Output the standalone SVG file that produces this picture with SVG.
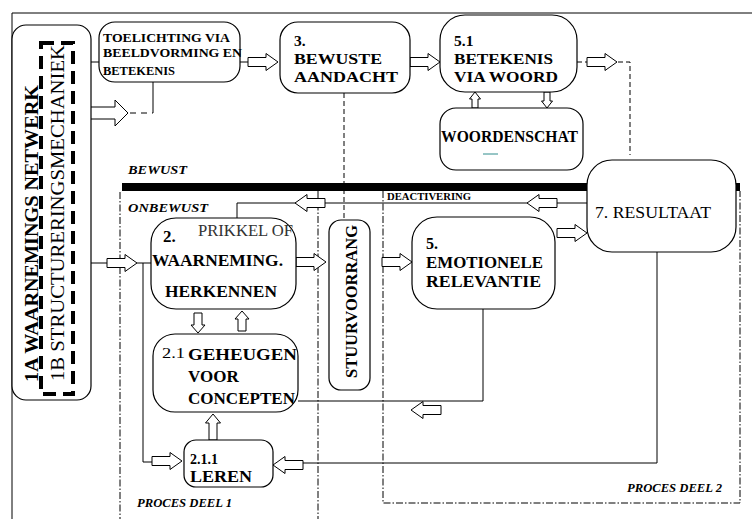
<svg xmlns="http://www.w3.org/2000/svg" xmlns:xlink="http://www.w3.org/1999/xlink" width="752" height="519" viewBox="0 0 752 519">
<style>
.box{fill:#fff;stroke:#000;stroke-width:1.2}
.ln{fill:none;stroke:#000;stroke-width:1}
.dash{fill:none;stroke:#000;stroke-width:1;stroke-dasharray:5 3}
.dd{fill:none;stroke:#000;stroke-width:1;stroke-dasharray:7 2 1.5 2}
.arr{fill:#fff;stroke:#000;stroke-width:1}
.t{font-family:"Liberation Serif","Times New Roman",serif;fill:#000}
.b{font-weight:bold}
.bi{font-weight:bold;font-style:italic}
</style>
<defs>
<path id="arr" d="M0,-4.5 H18 V-8.5 L30,0 L18,8.5 V4.5 H0 Z"/>
<path id="arrb" d="M0,-6 H37 V-13 L50,0 L37,13 V6 H0 Z"/>
<path id="arrm" d="M0,-4 H17 V-7.5 L26,0 L17,7.5 V4 H0 Z"/>
<path id="arrs" d="M0,-4 H12 V-7 L20,0 L12,7 V4 H0 Z"/>
<path id="arrt" d="M0,-3 H9 V-5.5 L16,0 L9,5.5 V3 H0 Z"/>
</defs>
<rect width="752" height="519" fill="#fff"/>
<g id="frame">
<path class="ln" d="M12,519 V13 H752"/>
<rect x="122" y="183" width="618" height="8" fill="#000"/>
<path class="dd" d="M120,192 V519"/>
<path class="dd" d="M318,191 V519"/>
<path class="dd" d="M383,191 V503 H740 V191"/>
<text class="t bi" x="128" y="174" font-size="13" textLength="59" lengthAdjust="spacingAndGlyphs">BEWUST</text>
<text class="t bi" x="128" y="212" font-size="13" textLength="80" lengthAdjust="spacingAndGlyphs">ONBEWUST</text>
<text class="t bi" x="137" y="507" font-size="12" textLength="95" lengthAdjust="spacingAndGlyphs">PROCES DEEL 1</text>
<text class="t bi" x="627" y="492" font-size="12" textLength="95" lengthAdjust="spacingAndGlyphs">PROCES DEEL 2</text>
</g>
<g id="connectors">
<path class="ln" d="M91,62 H99"/>
<path class="ln" d="M240,62 H248"/>
<use href="#arr" class="arr" transform="translate(248,62)"/>
<path class="ln" d="M392,62 H410"/>
<use href="#arr" class="arr" transform="translate(410,62)"/>
<path class="ln" d="M153,82 V113"/>
<path class="ln" d="M130,113 H153" stroke-dasharray="6 5"/>
<use href="#arrb" class="arr" transform="translate(78,113)"/>
<use href="#arrt" class="arr" transform="translate(475,108) rotate(-90)"/>
<use href="#arrt" class="arr" transform="translate(547,92) rotate(90)"/>
<path class="dash" d="M577,62 H587"/>
<use href="#arr" class="arr" transform="translate(587,62)"/>
<path class="dash" d="M618,62 H630 V155"/>
<path class="dash" d="M344,93 V220"/>
<path class="ln" d="M587,203 H237 V218"/>
<use href="#arr" class="arr" transform="translate(325,203) rotate(180)"/>
<use href="#arr" class="arr" transform="translate(557,203) rotate(180)"/>
<path class="ln" d="M91,263 H107"/>
<use href="#arr" class="arr" transform="translate(107,263)"/>
<path class="ln" d="M137,263 H151"/>
<path class="ln" d="M143,263 V462 H152"/>
<use href="#arr" class="arr" transform="translate(152,461)"/>
<use href="#arr" class="arr" transform="translate(296,262)"/>
<use href="#arr" class="arr" transform="translate(382,262)"/>
<use href="#arr" class="arr" transform="translate(557,233)"/>
<use href="#arrs" class="arr" transform="translate(198,313) rotate(90)"/>
<use href="#arrs" class="arr" transform="translate(242,331) rotate(-90)"/>
<use href="#arrm" class="arr" transform="translate(213,440) rotate(-90)"/>
<path class="ln" d="M298,401 H483 V309"/>
<use href="#arr" class="arr" transform="translate(441,410) rotate(180)"/>
<path class="ln" d="M657,252 V463 H303"/>
<use href="#arr" class="arr" transform="translate(303,465) rotate(180)"/>
</g>
<g id="n1">
<rect class="box" x="12" y="25" width="79" height="375" rx="14"/>
<rect x="41" y="43" width="32" height="351" fill="none" stroke="#000" stroke-width="4" stroke-dasharray="13 7"/>
<text class="t b" font-size="19" transform="translate(38,382) rotate(-90)" textLength="297" lengthAdjust="spacingAndGlyphs">1A WAARNEMINGS NETWERK</text>
<text class="t" font-size="19" transform="translate(64,381) rotate(-90)" textLength="336" lengthAdjust="spacingAndGlyphs">1B STRUCTURERINGSMECHANIEK</text>
</g>
<g id="n-toelichting">
<rect class="box" x="99" y="22" width="141" height="60" rx="16"/>
<text class="t b" font-size="13" x="103" y="42" textLength="127" lengthAdjust="spacingAndGlyphs">TOELICHTING VIA</text>
<text class="t b" font-size="13" x="103" y="57" textLength="139" lengthAdjust="spacingAndGlyphs">BEELDVORMING EN</text>
<text class="t b" font-size="13" x="103" y="75" textLength="72" lengthAdjust="spacingAndGlyphs">BETEKENIS</text>
</g>
<g id="n3">
<rect class="box" x="280" y="22" width="130" height="71" rx="18"/>
<text class="t b" font-size="15.5" x="294" y="46">3.</text>
<text class="t b" font-size="15.5" x="294" y="64" textLength="88" lengthAdjust="spacingAndGlyphs">BEWUSTE</text>
<text class="t b" font-size="15.5" x="294" y="82" textLength="104" lengthAdjust="spacingAndGlyphs">AANDACHT</text>
</g>
<g id="n51">
<rect class="box" x="440" y="15" width="137" height="77" rx="25"/>
<text class="t b" font-size="15.5" x="454" y="46">5.1</text>
<text class="t b" font-size="15.5" x="454" y="64" textLength="99" lengthAdjust="spacingAndGlyphs">BETEKENIS</text>
<text class="t b" font-size="15.5" x="454" y="82" textLength="104" lengthAdjust="spacingAndGlyphs">VIA WOORD</text>
</g>
<g id="n-woordenschat">
<rect class="box" x="440" y="108" width="143" height="62" rx="16"/>
<text class="t b" font-size="17" x="441" y="142" textLength="137" lengthAdjust="spacingAndGlyphs">WOORDENSCHAT</text>
<line x1="483" y1="154" x2="498" y2="154" stroke="#2f8c8c" stroke-width="1"/>
</g>
<g id="n7">
<rect class="box" x="587" y="160" width="149" height="92" rx="25"/>
<text class="t" font-size="17" x="595" y="218" textLength="116" lengthAdjust="spacingAndGlyphs">7.  RESULTAAT</text>
</g>
<text class="t b" font-size="11" x="387" y="200" textLength="84" lengthAdjust="spacingAndGlyphs">DEACTIVERING</text>
<g id="n2">
<rect class="box" x="151" y="218" width="145" height="91" rx="25"/>
<text class="t b" font-size="17" x="163" y="242">2.</text>
<text class="t" font-size="16.5" x="198" y="236" style="fill:#333" textLength="95" lengthAdjust="spacingAndGlyphs">PRIKKEL OF</text>
<text class="t b" font-size="17" x="152" y="266" textLength="131" lengthAdjust="spacingAndGlyphs">WAARNEMING.</text>
<text class="t b" font-size="17" x="165" y="297" textLength="112" lengthAdjust="spacingAndGlyphs">HERKENNEN</text>
</g>
<g id="n21">
<rect class="box" x="153" y="334" width="145" height="78" rx="22"/>
<text class="t" font-size="15" x="162" y="358" textLength="23" lengthAdjust="spacingAndGlyphs">2.1</text>
<text class="t b" font-size="17" x="188" y="360" textLength="109" lengthAdjust="spacingAndGlyphs">GEHEUGEN</text>
<text class="t b" font-size="17" x="188" y="382">VOOR</text>
<text class="t b" font-size="17" x="188" y="404" textLength="107" lengthAdjust="spacingAndGlyphs">CONCEPTEN</text>
</g>
<g id="n211">
<rect class="box" x="184" y="440" width="89" height="47" rx="12"/>
<text class="t b" font-size="14" x="190" y="464" textLength="28" lengthAdjust="spacingAndGlyphs">2.1.1</text>
<text class="t b" font-size="16" x="190" y="482" textLength="62" lengthAdjust="spacingAndGlyphs">LEREN</text>
</g>
<g id="n-stuur">
<rect class="box" x="329" y="220" width="41" height="170" rx="12"/>
<text class="t b" font-size="16.5" transform="translate(357,378) rotate(-90)" textLength="153" lengthAdjust="spacingAndGlyphs">STUURVOORRANG</text>
</g>
<g id="n5">
<rect class="box" x="412" y="217" width="143" height="92" rx="25"/>
<text class="t b" font-size="16" x="426" y="249">5.</text>
<text class="t b" font-size="16" x="426" y="268" textLength="117" lengthAdjust="spacingAndGlyphs">EMOTIONELE</text>
<text class="t b" font-size="16" x="426" y="287" textLength="115" lengthAdjust="spacingAndGlyphs">RELEVANTIE</text>
</g>
</svg>
